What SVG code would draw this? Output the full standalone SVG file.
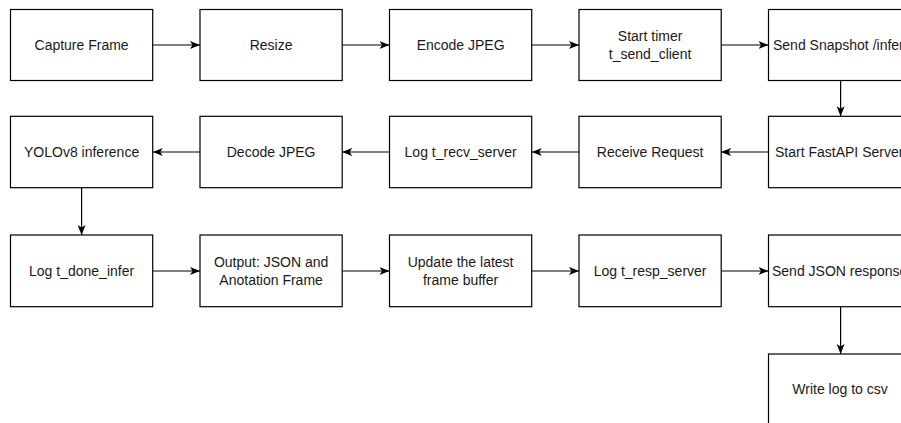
<svg xmlns="http://www.w3.org/2000/svg" width="901" height="423" viewBox="0 0 901 423">
<style>
.box{fill:#ffffff;stroke:#000000;stroke-width:1.2}
.t{font-family:"Liberation Sans",Arial,sans-serif;font-size:14px;fill:#1a1a1a;text-anchor:middle}
.ts{font-family:"Liberation Sans",Arial,sans-serif;font-size:14px;fill:#1a1a1a;text-anchor:start}
.c{fill:none;stroke:#000000;stroke-width:1.2;marker-end:url(#ah)}
</style>
<defs>
<marker id="ah" viewBox="0 0 10 8" refX="10" refY="4" markerWidth="10" markerHeight="8" markerUnits="userSpaceOnUse" orient="auto">
<path d="M0,0 L10,4 L0,8 L2.5,4 Z" fill="#000000"/>
</marker>
</defs>
<rect width="901" height="423" fill="#ffffff"/>
<g id="connectors">
<line class="c" x1="152.7" y1="45" x2="200" y2="45"/>
<line class="c" x1="342.2" y1="45" x2="389.5" y2="45"/>
<line class="c" x1="531.7" y1="45" x2="579" y2="45"/>
<line class="c" x1="721.2" y1="45" x2="768.5" y2="45"/>
<line class="c" x1="840.6" y1="80.5" x2="840.6" y2="116.3"/>
<line class="c" x1="768.5" y1="152" x2="721.2" y2="152"/>
<line class="c" x1="579" y1="152" x2="531.7" y2="152"/>
<line class="c" x1="389.5" y1="152" x2="342.2" y2="152"/>
<line class="c" x1="200" y1="152" x2="152.7" y2="152"/>
<line class="c" x1="81.6" y1="187.7" x2="81.6" y2="235"/>
<line class="c" x1="152.7" y1="271" x2="200" y2="271"/>
<line class="c" x1="342.2" y1="271" x2="389.5" y2="271"/>
<line class="c" x1="531.7" y1="271" x2="579" y2="271"/>
<line class="c" x1="721.2" y1="271" x2="768.5" y2="271"/>
<line class="c" x1="840.6" y1="306.7" x2="840.6" y2="354"/>
</g>
<g id="capture"><rect class="box" x="10.5" y="9.5" width="142.2" height="71"/><text class="t" x="81.6" y="50">Capture Frame</text></g>
<g id="resize"><rect class="box" x="200" y="9.5" width="142.2" height="71"/><text class="t" x="271.1" y="50">Resize</text></g>
<g id="encode"><rect class="box" x="389.5" y="9.5" width="142.2" height="71"/><text class="t" x="460.6" y="50">Encode JPEG</text></g>
<g id="timer"><rect class="box" x="579" y="9.5" width="142.2" height="71"/><text class="t" x="650.1" y="41">Start timer</text><text class="t" x="650.1" y="59">t_send_client</text></g>
<g id="send"><rect class="box" x="768.5" y="9.5" width="142.2" height="71"/><text class="ts" x="773" y="50">Send Snapshot /inference</text></g>
<g id="fastapi"><rect class="box" x="768.5" y="116.3" width="142.2" height="71.4"/><text class="ts" x="775" y="157">Start FastAPI Server</text></g>
<g id="receive"><rect class="box" x="579" y="116.3" width="142.2" height="71.4"/><text class="t" x="650.1" y="157">Receive Request</text></g>
<g id="logrecv"><rect class="box" x="389.5" y="116.3" width="142.2" height="71.4"/><text class="t" x="460.6" y="157">Log t_recv_server</text></g>
<g id="decode"><rect class="box" x="200" y="116.3" width="142.2" height="71.4"/><text class="t" x="271.1" y="157">Decode JPEG</text></g>
<g id="yolo"><rect class="box" x="10.5" y="116.3" width="142.2" height="71.4"/><text class="t" x="81.6" y="157">YOLOv8 inference</text></g>
<g id="logdone"><rect class="box" x="10.5" y="235" width="142.2" height="71.7"/><text class="t" x="81.6" y="276">Log t_done_infer</text></g>
<g id="output"><rect class="box" x="200" y="235" width="142.2" height="71.7"/><text class="t" x="271.1" y="267">Output: JSON and</text><text class="t" x="271.1" y="285">Anotation Frame</text></g>
<g id="update"><rect class="box" x="389.5" y="235" width="142.2" height="71.7"/><text class="t" x="460.6" y="267">Update the latest</text><text class="t" x="460.6" y="285">frame buffer</text></g>
<g id="logresp"><rect class="box" x="579" y="235" width="142.2" height="71.7"/><text class="t" x="650.1" y="276">Log t_resp_server</text></g>
<g id="sendjson"><rect class="box" x="768.5" y="235" width="142.2" height="71.7"/><text class="ts" x="772" y="276">Send JSON response</text></g>
<g id="writelog"><rect class="box" x="768.5" y="354" width="142.2" height="71"/><text class="t" x="840" y="394">Write log to csv</text></g>
</svg>
